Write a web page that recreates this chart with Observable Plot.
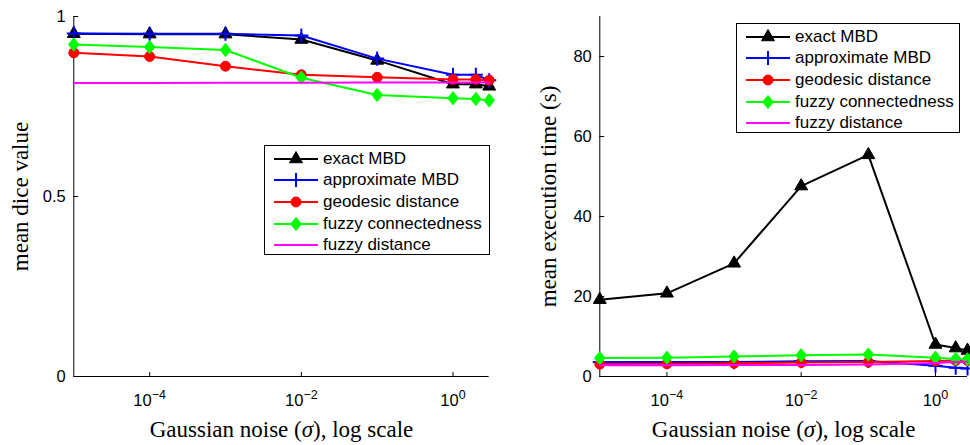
<!DOCTYPE html>
<html><head><meta charset="utf-8">
<script src="https://cdn.jsdelivr.net/npm/d3@7"></script>
<script src="https://cdn.jsdelivr.net/npm/@observablehq/plot@0.6"></script>
<style>
body{margin:0;background:#fff;}
#wrap{position:relative;width:970px;height:445px;overflow:hidden;background:#fff;}
#left,#right{position:absolute;top:0;}
#left{left:0;} #right{left:500px;}
.legend{position:absolute;background:#fff;border:1px solid #000;font-family:"Liberation Sans",Arial,sans-serif;font-size:17px;box-sizing:border-box;padding-top:2px;color:#000;}
.legend .row{display:flex;align-items:center;height:21.6px;white-space:nowrap;}
.legend svg{flex:none;margin-left:9px;margin-right:5px;}
</style>
</head><body>
<div id="wrap"><div id="left"></div><div id="right"></div></div>
<script>
// ---- data ----
const sigma = [1e-5, 1e-4, 1e-3, 1e-2, 1e-1, 1, 2, 3];
const seriesNames = ["exact MBD", "approximate MBD", "geodesic distance", "fuzzy connectedness", "fuzzy distance"];
const seriesColors = ["#000000", "#0000ff", "#ff0000", "#00ff00", "#ff00ff"];
const seriesSymbols = ["triangle", "plus", "circle", "diamond", "none"];

// mean dice value
const diceExactMBD  = [0.952, 0.951, 0.951, 0.936, 0.878, 0.812, 0.812, 0.806];
const diceApproxMBD = [0.953, 0.952, 0.952, 0.947, 0.883, 0.838, 0.838, 0.823];
const diceGeodesic  = [0.899, 0.889, 0.862, 0.838, 0.831, 0.825, 0.825, 0.823];
const diceFuzzyConn = [0.922, 0.915, 0.907, 0.830, 0.782, 0.773, 0.771, 0.767];
const diceFuzzyDist = [0.815, 0.815, 0.816, 0.816, 0.817, 0.817, 0.817, 0.817];

// mean execution time (s)
const timeExactMBD  = [19.2, 20.8, 28.3, 47.6, 55.4, 8.0, 7.1, 6.5];
const timeApproxMBD = [3.6, 3.6, 3.6, 3.8, 3.9, 2.7, 2.2, 2.0];
const timeGeodesic  = [3.1, 3.2, 3.3, 3.5, 3.6, 3.9, 4.0, 4.0];
const timeFuzzyConn = [4.6, 4.7, 5.0, 5.3, 5.5, 4.7, 4.4, 4.3];
const timeFuzzyDist = [2.8, 2.8, 2.9, 2.9, 3.0, 3.4, 3.6, 3.7];

const xDomain = [1e-5, 3];
const xTicks = [1e-4, 1e-2, 1];
const diceDomain = [0, 1];
const diceTicks = [0, 0.5, 1];
const timeDomain = [0, 90];
const timeTicks = [0, 20, 40, 60, 80];
const xTitle = "Gaussian noise (σ), log scale";
const diceTitle = "mean dice value";
const timeTitle = "mean execution time (s)";

// ---- helpers ----
const diamondSym = {draw(ctx, size) {
  const ry = Math.sqrt(size / Math.PI) * 1.2, rx = ry * 0.8;
  ctx.moveTo(0, -ry); ctx.lineTo(rx, 0); ctx.lineTo(0, ry); ctx.lineTo(-rx, 0); ctx.closePath();
}};
const tickShape = {draw(ctx, l) { ctx.moveTo(0, 0); ctx.lineTo(0, -l); }};
const PLUS_R = 4.6;

function seriesMarks(arrays) {
  const marks = [];
  arrays.forEach((arr, k) => {
    const data = sigma.map((s, i) => ({sigma: s, value: arr[i]}));
    const color = seriesColors[k];
    marks.push(Plot.line(data, {x: "sigma", y: "value", stroke: color, strokeWidth: 2}));
    const sym = seriesSymbols[k];
    if (sym === "triangle") marks.push(Plot.dot(data, {x: "sigma", y: "value", symbol: "triangle", r: 4.8, fill: color, stroke: color, strokeWidth: 1}));
    else if (sym === "plus") marks.push(Plot.dot(data, {x: "sigma", y: "value", symbol: "plus", r: PLUS_R, stroke: color, strokeWidth: 2, fill: "none"}));
    else if (sym === "circle") marks.push(Plot.dot(data, {x: "sigma", y: "value", symbol: "circle", r: 5, fill: color, stroke: color, strokeWidth: 1}));
    else if (sym === "diamond") marks.push(Plot.dot(data, {x: "sigma", y: "value", symbol: diamondSym, r: 5.5, fill: color, stroke: color, strokeWidth: 1}));
  });
  return marks;
}

function makeChart({width, marginLeft, marginRight, yDomain, yTicks, arrays, yTitle, yTitleDx}) {
  return Plot.plot({
    width, height: 445,
    marginLeft, marginRight, marginTop: 16, marginBottom: 69,
    style: {fontFamily: "'Liberation Sans', Arial, sans-serif", fontSize: "16.5px", color: "#000", background: "transparent", overflow: "visible"},
    x: {type: "log", domain: xDomain},
    y: {domain: yDomain},
    marks: [
      Plot.ruleX([xDomain[0]], {stroke: "#000", strokeWidth: 1}),
      Plot.ruleY([yDomain[0]], {stroke: "#000", strokeWidth: 1}),
      Plot.vector(xTicks, {x: d => d, frameAnchor: "bottom", length: 4, rotate: 0, anchor: "start", shape: tickShape, stroke: "#000", strokeWidth: 1}),
      Plot.vector(yTicks, {y: d => d, frameAnchor: "left", length: 4, rotate: 90, anchor: "start", shape: tickShape, stroke: "#000", strokeWidth: 1}),
      Plot.axisX(xTicks, {tickSize: 0, tickPadding: 18, label: null, tickFormat: d => "10^" + Math.round(Math.log10(d))}),
      Plot.axisY(yTicks, {tickSize: 0, tickPadding: 8, label: null, tickFormat: d => String(d)}),
      ...seriesMarks(arrays),
      Plot.text([yTitle], {text: d => d, frameAnchor: "left", textAnchor: "middle", rotate: -90, dx: yTitleDx, fontFamily: "'Liberation Serif', 'Times New Roman', serif", fontSize: 23}),
      Plot.text([xTitle], {text: d => d, frameAnchor: "bottom", textAnchor: "middle", dy: 60, fontFamily: "'Liberation Serif', 'Times New Roman', serif", fontSize: 23})
    ]
  });
}

function postProcess(svg) {
  const NS = "http://www.w3.org/2000/svg";
  svg.querySelectorAll("text").forEach(t => {
    const s = t.textContent;
    let m = s.match(/^10\^(-?\d+)$/);
    if (m) {
      t.textContent = "10";
      const sup = document.createElementNS(NS, "tspan");
      sup.setAttribute("dy", "-7");
      sup.setAttribute("font-size", "12.5");
      sup.textContent = m[1].replace("-", "\u2212");
      t.appendChild(sup);
      return;
    }
    const idx = s.indexOf("σ");
    if (idx >= 0 && s.length > 1) {
      t.textContent = "";
      t.appendChild(document.createTextNode(s.slice(0, idx)));
      const it = document.createElementNS(NS, "tspan");
      it.setAttribute("font-style", "italic");
      it.textContent = "σ";
      t.appendChild(it);
      t.appendChild(document.createTextNode(s.slice(idx + 1)));
    }
  });
}

function makeLegend(left, top, width, height) {
  const box = document.createElement("div");
  box.className = "legend";
  Object.assign(box.style, {left: left + "px", top: top + "px", width: width + "px", height: height + "px"});
  seriesNames.forEach((name, k) => {
    const row = document.createElement("div");
    row.className = "row";
    const sv = d3.create("svg").attr("width", 44).attr("height", 16);
    const c = seriesColors[k];
    sv.append("line").attr("x1", 0).attr("x2", 44).attr("y1", 8).attr("y2", 8).attr("stroke", c).attr("stroke-width", 2);
    const sym = seriesSymbols[k];
    const g = sv.append("g").attr("transform", "translate(22,8)");
    if (sym === "triangle") g.append("path").attr("d", d3.symbol(d3.symbolTriangle, Math.PI * 4.8 * 4.8)()).attr("fill", c).attr("stroke", c);
    else if (sym === "plus") g.append("path").attr("d", d3.symbol(d3.symbolPlus, Math.PI * PLUS_R * PLUS_R)()).attr("fill", "none").attr("stroke", c).attr("stroke-width", 2);
    else if (sym === "circle") g.append("circle").attr("r", 5).attr("fill", c).attr("stroke", c);
    else if (sym === "diamond") g.append("path").attr("d", d3.symbol(diamondSym, Math.PI * 5.5 * 5.5)()).attr("fill", c).attr("stroke", c);
    row.appendChild(sv.node());
    const span = document.createElement("span");
    span.textContent = name;
    row.appendChild(span);
    box.appendChild(row);
  });
  document.getElementById("wrap").appendChild(box);
}

const left = makeChart({width: 500, marginLeft: 73.3, marginRight: 11.3, yDomain: diceDomain, yTicks: diceTicks,
  arrays: [diceExactMBD, diceApproxMBD, diceGeodesic, diceFuzzyConn, diceFuzzyDist], yTitle: diceTitle, yTitleDx: -53});
const right = makeChart({width: 470, marginLeft: 99.3, marginRight: 3, yDomain: timeDomain, yTicks: timeTicks,
  arrays: [timeExactMBD, timeApproxMBD, timeGeodesic, timeFuzzyConn, timeFuzzyDist], yTitle: timeTitle, yTitleDx: -51});
postProcess(left); postProcess(right);
document.getElementById("left").appendChild(left);
document.getElementById("right").appendChild(right);
makeLegend(264, 145, 226, 110);
makeLegend(736, 23, 224, 110);
</script>
</body></html>
